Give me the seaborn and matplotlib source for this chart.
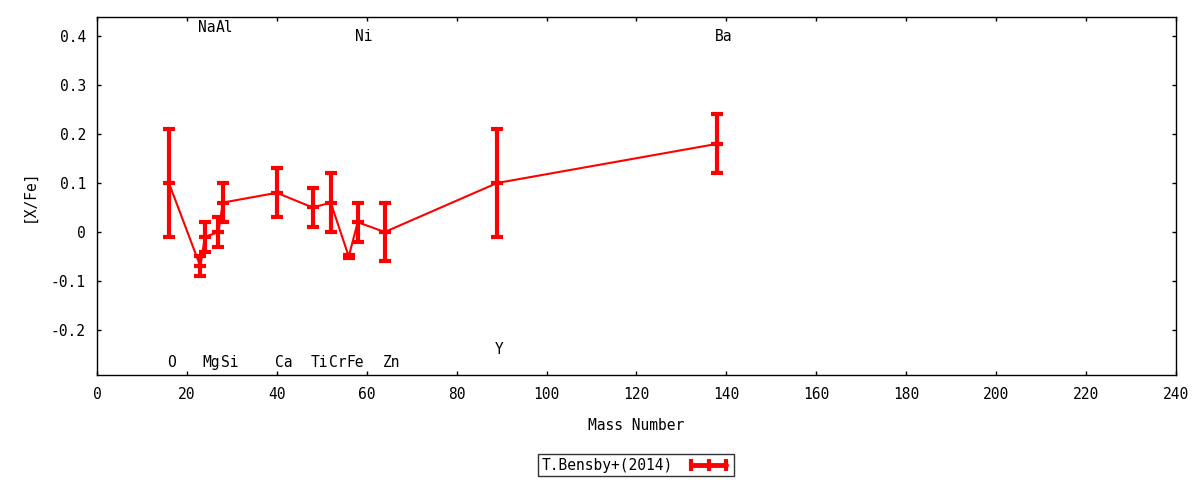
import matplotlib
matplotlib.use("Agg")
import matplotlib.pyplot as plt
import seaborn as sns
from matplotlib.lines import Line2D

# [X/Fe] vs mass number, T.Bensby+(2014)
mass = [16, 23, 24, 27, 28, 40, 48, 52, 56, 58, 64, 89, 138]
xfe = [0.10, -0.07, -0.01, 0.00, 0.06, 0.08, 0.05, 0.06, -0.05, 0.02, 0.00, 0.10, 0.18]
err = [0.11, 0.02, 0.03, 0.03, 0.04, 0.05, 0.04, 0.06, 0.004, 0.04, 0.06, 0.11, 0.06]

# element labels: name, mass, y position
elem_names = ["O", "Na", "Mg", "Al", "Si", "Ca", "Ti", "Cr", "Fe", "Ni", "Zn", "Y", "Ba"]
elem_mass = [16, 23, 24, 27, 28, 40, 48, 52, 56, 58, 64, 89, 138]
elem_y = [-0.267, 0.418, -0.267, 0.418, -0.267, -0.267, -0.267, -0.267, -0.267, 0.398, -0.267, -0.239, 0.398]

sns.set_style("ticks")
plt.rcParams['font.family'] = ['DejaVu Sans Mono', 'DejaVu Sans']
plt.rcParams['font.size'] = 10
plt.rcParams['text.color'] = 'black'
plt.rcParams['axes.labelcolor'] = 'black'

fig = plt.figure(figsize=(12, 4.8), dpi=100)
ax = fig.add_axes([0.0808, 0.2188, 0.8992, 0.7458])

red = "#ff0000"
sns.lineplot(x=mass, y=xfe, ax=ax, color=red, linewidth=1.5, marker="_",
             markersize=9, markeredgewidth=3, markeredgecolor=red, legend=False)
ax.errorbar(mass, xfe, yerr=err, fmt="none", ecolor=red, elinewidth=3,
            capsize=4.5, capthick=3)

for name, m, yy in zip(elem_names, elem_mass, elem_y):
    ax.text(m - 0.5, yy, name, ha="left", va="center", fontsize=10.5)

ax.set_xlim(0, 240)
ax.set_ylim(-0.2918, 0.4388)
ax.set_xticks(range(0, 241, 20))
ax.set_yticks([-0.2, -0.1, 0, 0.1, 0.2, 0.3, 0.4])
ax.set_yticklabels(["-0.2", "-0.1", "0", "0.1", "0.2", "0.3", "0.4"])
ax.tick_params(direction="in", length=3, width=1, top=True, right=True,
               labelsize=10.5, colors="black")
ax.tick_params(axis="x", pad=9)
ax.tick_params(axis="y", pad=8)
for s in ax.spines.values():
    s.set_linewidth(1)
    s.set_color("black")

ax.set_xlabel("Mass Number", fontsize=10.5, labelpad=11)
ax.set_ylabel("[X/Fe]", fontsize=10.5, labelpad=10)

handle = Line2D([], [], color=red, linewidth=3.5, marker="|", markersize=9,
                markeredgewidth=3)
leg = fig.legend([handle], ["T.Bensby+(2014)"], loc="center",
                 bbox_to_anchor=(0.53, 0.031), numpoints=3, markerfirst=False,
                 frameon=True, fancybox=False, fontsize=10.5, handlelength=3.0,
                 borderpad=0.25, handletextpad=1.0, borderaxespad=0)
leg.get_frame().set_edgecolor("black")
leg.get_frame().set_linewidth(1)

fig.savefig("out.png", dpi=100)
